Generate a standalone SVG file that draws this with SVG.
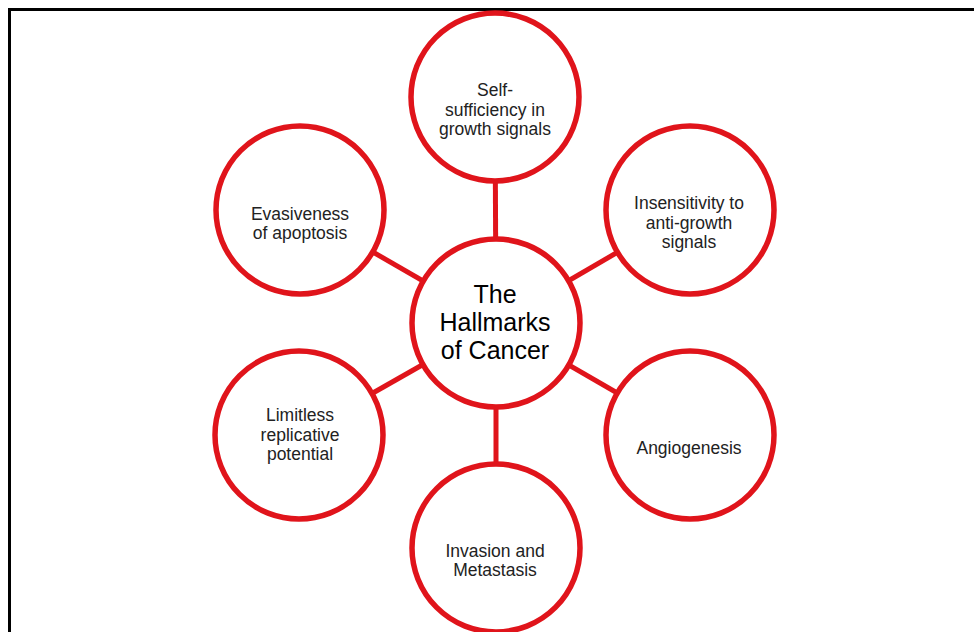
<svg xmlns="http://www.w3.org/2000/svg" width="974" height="632" viewBox="0 0 974 632">
  <style>
    .node { fill: #ffffff; stroke: #e0141b; stroke-width: 5.5; }
    .conn { stroke: #e0141b; stroke-width: 5; fill: none; }
    .lbl { font-family: "Liberation Sans", Arial, sans-serif; font-size: 17.5px; fill: #222222; text-anchor: middle; }
    .title { font-family: "Liberation Sans", Arial, sans-serif; font-size: 25px; fill: #000000; text-anchor: middle; }
  </style>
  <rect x="0" y="0" width="974" height="632" fill="#ffffff"/>
  <path d="M9.5,632 V9.5 H974" fill="none" stroke="#000000" stroke-width="3"/>
  <g id="connectors">
    <line class="conn" x1="496" y1="323" x2="495" y2="97"/>
    <line class="conn" x1="496" y1="323" x2="300" y2="210"/>
    <line class="conn" x1="496" y1="323" x2="690" y2="210"/>
    <line class="conn" x1="496" y1="323" x2="299" y2="435"/>
    <line class="conn" x1="496" y1="323" x2="690" y2="435"/>
    <line class="conn" x1="496" y1="323" x2="496" y2="548"/>
  </g>
  <g id="center">
    <circle class="node" cx="496" cy="323" r="84"/>
    <text class="title" x="495" y="303">The</text>
    <text class="title" x="495" y="331">Hallmarks</text>
    <text class="title" x="495" y="359">of Cancer</text>
  </g>
  <g id="self-sufficiency">
    <circle class="node" cx="495" cy="97" r="84"/>
    <text class="lbl" x="495" y="96">Self-</text>
    <text class="lbl" x="495" y="116">sufficiency in</text>
    <text class="lbl" x="495" y="135">growth signals</text>
  </g>
  <g id="evasiveness">
    <circle class="node" cx="300" cy="210" r="84"/>
    <text class="lbl" x="300" y="220">Evasiveness</text>
    <text class="lbl" x="300" y="239">of apoptosis</text>
  </g>
  <g id="insensitivity">
    <circle class="node" cx="690" cy="210" r="84"/>
    <text class="lbl" x="689" y="209">Insensitivity to</text>
    <text class="lbl" x="689" y="229">anti-growth</text>
    <text class="lbl" x="689" y="248">signals</text>
  </g>
  <g id="limitless">
    <circle class="node" cx="299" cy="435" r="84"/>
    <text class="lbl" x="300" y="421">Limitless</text>
    <text class="lbl" x="300" y="441">replicative</text>
    <text class="lbl" x="300" y="460">potential</text>
  </g>
  <g id="angiogenesis">
    <circle class="node" cx="690" cy="435" r="84"/>
    <text class="lbl" x="689" y="454">Angiogenesis</text>
  </g>
  <g id="invasion">
    <circle class="node" cx="496" cy="548" r="84"/>
    <text class="lbl" x="495" y="557">Invasion and</text>
    <text class="lbl" x="495" y="576">Metastasis</text>
  </g>
</svg>
